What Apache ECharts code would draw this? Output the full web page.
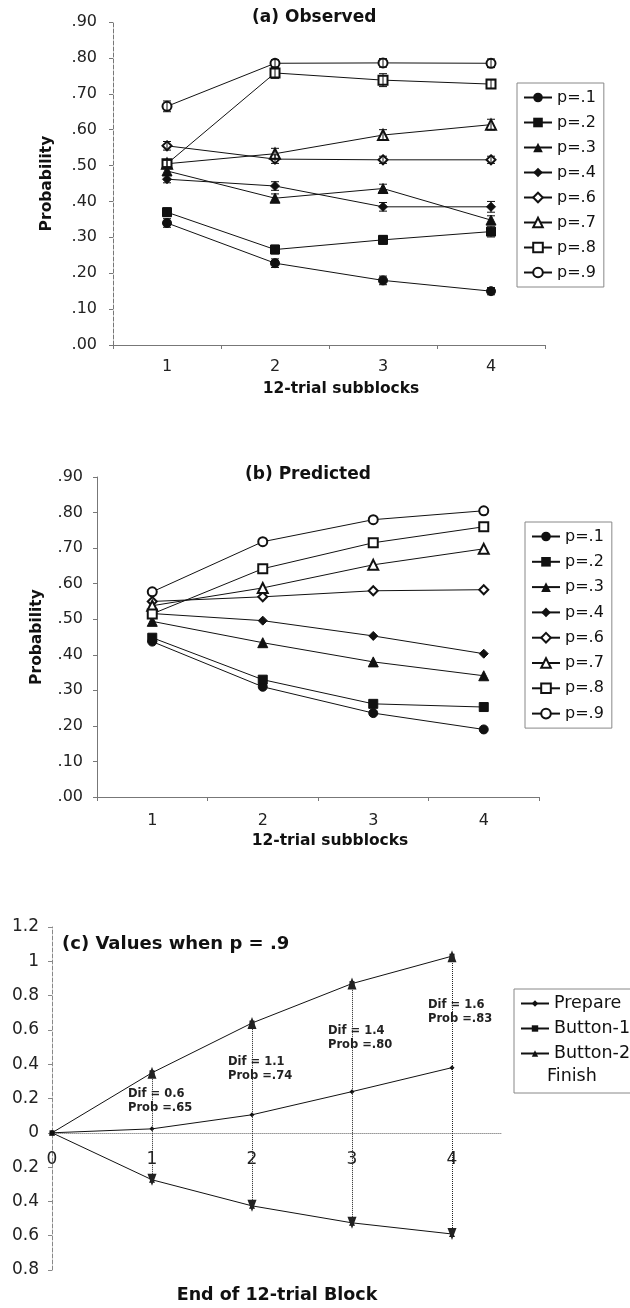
<!DOCTYPE html>
<html>
<head>
<meta charset="utf-8">
<script src="https://cdn.jsdelivr.net/npm/echarts@6/dist/echarts.min.js"></script>
<style>
  html, body { margin: 0; padding: 0; background: #fff; }
  #chart { width: 630px; height: 1308px; }
</style>
</head>
<body>
<div id="chart"></div>
<script>
// subblocks on the x axis of panels (a) and (b)
const categories = ['1', '2', '3', '4'];
const pNames = ['p=.1', 'p=.2', 'p=.3', 'p=.4', 'p=.6', 'p=.7', 'p=.8', 'p=.9'];
const pSymbols = ['circle', 'rect', 'triangle', 'diamond', 'emptyDiamond', 'emptyTriangle', 'emptyRect', 'emptyCircle'];

// (a) observed
const obsP1 = [0.340, 0.228, 0.180, 0.150];
const obsP2 = [0.370, 0.266, 0.293, 0.316];
const obsP3 = [0.485, 0.409, 0.436, 0.348];
const obsP4 = [0.462, 0.443, 0.385, 0.385];
const obsP6 = [0.555, 0.518, 0.516, 0.516];
const obsP7 = [0.505, 0.533, 0.585, 0.614];
const obsP8 = [0.505, 0.758, 0.738, 0.727];
const obsP9 = [0.665, 0.785, 0.786, 0.785];
// (a) standard errors
const errP1 = [0.012, 0.012, 0.012, 0.010];
const errP2 = [0.012, 0.012, 0.012, 0.015];
const errP3 = [0.012, 0.012, 0.012, 0.012];
const errP4 = [0.010, 0.012, 0.012, 0.015];
const errP6 = [0.012, 0.012, 0.010, 0.010];
const errP7 = [0.010, 0.015, 0.015, 0.015];
const errP8 = [0.010, 0.015, 0.018, 0.012];
const errP9 = [0.015, 0.010, 0.012, 0.012];

// (b) predicted
const preP1 = [0.437, 0.310, 0.236, 0.190];
const preP2 = [0.448, 0.330, 0.262, 0.253];
const preP3 = [0.494, 0.434, 0.380, 0.341];
const preP4 = [0.516, 0.496, 0.453, 0.403];
const preP6 = [0.550, 0.563, 0.580, 0.583];
const preP7 = [0.538, 0.588, 0.653, 0.698];
const preP8 = [0.515, 0.642, 0.715, 0.760];
const preP9 = [0.577, 0.718, 0.780, 0.805];

// (c) values when p = .9
const blocks = [0, 1, 2, 3, 4];
const prepare = [0, 0.023, 0.105, 0.24, 0.38];
const button1 = [0, 0.35, 0.64, 0.87, 1.03];
const button2 = [0, -0.274, -0.426, -0.525, -0.59];
const difs = ['0.6', '1.1', '1.4', '1.6'];
const probs = ['.65', '.74', '.80', '.83'];

const observed = [obsP1, obsP2, obsP3, obsP4, obsP6, obsP7, obsP8, obsP9];
const errors = [errP1, errP2, errP3, errP4, errP6, errP7, errP8, errP9];
const predicted = [preP1, preP2, preP3, preP4, preP6, preP7, preP8, preP9];

const FONT = 'DejaVu Sans';
const INK = '#111';
const AXIS = '#777';

// panel (c) value range and grid height, used to lift the x axis to y = 0
const cMin = -0.8;
const cMax = 1.2;
const cHeight = 343;

function probLabel(v) {
    return v.toFixed(2).replace(/^0/, '');
}

function renderErr(params, api) {
    const x = api.value(0);
    const lo = api.coord([x, api.value(1)]);
    const hi = api.coord([x, api.value(2)]);
    const w = 4;
    const st = { stroke: INK, lineWidth: 1 };
    return {
        type: 'group',
        children: [
            { type: 'line', shape: { x1: lo[0], y1: lo[1], x2: hi[0], y2: hi[1] }, style: st },
            { type: 'line', shape: { x1: lo[0] - w, y1: lo[1], x2: lo[0] + w, y2: lo[1] }, style: st },
            { type: 'line', shape: { x1: hi[0] - w, y1: hi[1], x2: hi[0] + w, y2: hi[1] }, style: st }
        ]
    };
}

function catXAxis(gridIndex, labelMargin) {
    return {
        type: 'category',
        gridIndex: gridIndex,
        data: categories,
        name: '12-trial subblocks',
        nameLocation: 'middle',
        nameGap: 36,
        nameTextStyle: { fontFamily: FONT, fontWeight: 'bold', fontSize: 15.5, color: INK, padding: [0, 0, 0, 24] },
        axisLine: { lineStyle: { color: AXIS, width: 1 } },
        axisTick: { show: true, length: 4, lineStyle: { color: AXIS } },
        axisLabel: { fontFamily: FONT, fontSize: 16, color: '#222', margin: labelMargin }
    };
}

function probYAxis(gridIndex, nameGap, labelMargin, dashed) {
    return {
        type: 'value',
        gridIndex: gridIndex,
        min: 0,
        max: 0.9,
        interval: 0.1,
        name: 'Probability',
        nameLocation: 'middle',
        nameRotate: 90,
        nameGap: nameGap,
        nameTextStyle: { fontFamily: FONT, fontWeight: 'bold', fontSize: 15.5, color: INK },
        axisLine: { show: true, lineStyle: { color: AXIS, width: 1, type: dashed ? 'dashed' : 'solid' } },
        axisTick: { show: true, length: 4, lineStyle: { color: AXIS } },
        splitLine: { show: false },
        axisLabel: { fontFamily: FONT, fontSize: 16, color: '#222', margin: labelMargin, formatter: probLabel }
    };
}

const series = [];

// panel (a) lines
observed.forEach(function (vals, k) {
    series.push({
        name: pNames[k],
        type: 'line',
        xAxisIndex: 0,
        yAxisIndex: 0,
        data: vals,
        symbol: pSymbols[k],
        symbolSize: pSymbols[k].indexOf('riangle') >= 0 ? 10 : 9,
        lineStyle: { color: INK, width: 1 },
        itemStyle: { color: INK, borderColor: INK },
        z: 3
    });
});

// panel (a) error bars
const errData = [];
observed.forEach(function (vals, k) {
    vals.forEach(function (v, i) {
        errData.push([i, v - errors[k][i], v + errors[k][i]]);
    });
});
series.push({
    type: 'custom',
    xAxisIndex: 0,
    yAxisIndex: 0,
    renderItem: renderErr,
    encode: { x: 0, y: [1, 2] },
    data: errData,
    z: 4
});

// panel (b) lines
predicted.forEach(function (vals, k) {
    series.push({
        name: pNames[k],
        type: 'line',
        xAxisIndex: 1,
        yAxisIndex: 1,
        data: vals,
        symbol: pSymbols[k],
        symbolSize: pSymbols[k].indexOf('riangle') >= 0 ? 10 : 9,
        lineStyle: { color: INK, width: 1 },
        itemStyle: { color: INK, borderColor: INK },
        z: 3
    });
});

// panel (c)
function pairs(vals) {
    return blocks.map(function (b, i) { return [b, vals[i]]; });
}

const arrowLines = [];
const notes = [];
for (let i = 1; i < blocks.length; i++) {
    arrowLines.push([{ coord: [blocks[i], button2[i]] }, { coord: [blocks[i], button1[i]] }]);
    notes.push({
        coord: [blocks[i], prepare[i] + 0.5 * (button1[i] - prepare[i])],
        value: 'Dif = ' + difs[i - 1] + '\nProb =' + probs[i - 1]
    });
}

series.push({
    name: 'Prepare',
    type: 'line',
    xAxisIndex: 2,
    yAxisIndex: 2,
    data: pairs(prepare),
    symbol: 'diamond',
    symbolSize: 5,
    lineStyle: { color: INK, width: 1 },
    itemStyle: { color: INK },
    markPoint: {
        symbol: 'rect',
        symbolSize: 1,
        itemStyle: { color: 'rgba(0,0,0,0)' },
        label: {
            show: true,
            position: 'inside',
            align: 'left',
            offset: [-24, 0],
            fontFamily: FONT,
            fontWeight: 'bold',
            fontSize: 11.5,
            lineHeight: 14,
            color: '#222',
            formatter: function (p) { return p.value; }
        },
        data: notes
    }
});
series.push({
    name: 'Button-1',
    type: 'line',
    xAxisIndex: 2,
    yAxisIndex: 2,
    data: pairs(button1),
    symbol: 'rect',
    symbolSize: 5,
    lineStyle: { color: INK, width: 1 },
    itemStyle: { color: INK },
    markLine: {
        silent: true,
        symbol: ['triangle', 'triangle'],
        symbolSize: [9, 12],
        label: { show: false },
        lineStyle: { color: '#222', width: 1, type: 'dotted' },
        data: arrowLines
    }
});
series.push({
    name: 'Button-2',
    type: 'line',
    xAxisIndex: 2,
    yAxisIndex: 2,
    data: pairs(button2),
    symbol: 'triangle',
    symbolSize: 6,
    lineStyle: { color: INK, width: 1 },
    itemStyle: { color: INK }
});

const legendBase = {
    orient: 'vertical',
    borderColor: '#888',
    borderWidth: 1,
    borderRadius: 0,
    itemWidth: 28,
    itemHeight: 12,
    textStyle: { fontFamily: FONT, fontSize: 16, color: INK, lineHeight: 17 }
};

const option = {
    animation: false,
    backgroundColor: '#fff',
    title: [
        { text: '(a) Observed', left: 247, top: 4, textStyle: { fontFamily: FONT, fontWeight: 'bold', fontSize: 17, color: INK } },
        { text: '(b) Predicted', left: 240, top: 461, textStyle: { fontFamily: FONT, fontWeight: 'bold', fontSize: 17, color: INK } },
        { text: '(c) Values when p = .9', left: 57, top: 930, textStyle: { fontFamily: FONT, fontWeight: 'bold', fontSize: 18, color: INK } }
    ],
    grid: [
        { left: 113, top: 22, width: 432, height: 323, outerBoundsMode: 'none' },
        { left: 97, top: 477, width: 442, height: 320, outerBoundsMode: 'none' },
        { left: 52, top: 927, width: 450, height: cHeight, outerBoundsMode: 'none' }
    ],
    legend: [
        Object.assign({}, legendBase, { left: 517, top: 83, padding: [6, 8, 6, 6], itemGap: 8, data: pNames }),
        Object.assign({}, legendBase, { left: 525, top: 522, padding: [6, 8, 6, 6], itemGap: 8.3, data: pNames }),
        Object.assign({}, legendBase, {
            left: 514, top: 989, padding: [2, 20, 27, 6], itemGap: 0, itemWidth: 28, itemHeight: 8,
            textStyle: { fontFamily: FONT, fontSize: 17.5, color: INK, lineHeight: 25 },
            data: ['Prepare', 'Button-1', 'Button-2']
        })
    ],
    graphic: [
        { type: 'text', left: 547, top: 1067, style: { text: 'Finish', fontFamily: FONT, fontSize: 17.5, fill: INK } }
    ],
    xAxis: [
        catXAxis(0, 14),
        catXAxis(1, 16),
        {
            type: 'value',
            gridIndex: 2,
            min: 0,
            max: 4.5,
            interval: 1,
            position: 'bottom',
            offset: -cHeight * (0 - cMin) / (cMax - cMin),
            name: 'End of 12-trial Block',
            nameLocation: 'middle',
            nameGap: 154,
            nameTextStyle: { fontFamily: FONT, fontWeight: 'bold', fontSize: 17.5, color: INK },
            axisLine: { onZero: false, lineStyle: { color: '#999', width: 1, type: 'dotted' } },
            axisTick: { show: false },
            splitLine: { show: false },
            axisLabel: {
                fontFamily: FONT, fontSize: 17, color: '#222', margin: 18,
                formatter: function (v) { return Number.isInteger(v) ? String(v) : ''; }
            }
        }
    ],
    yAxis: [
        probYAxis(0, 58, 16, true),
        probYAxis(1, 52, 14, false),
        {
            type: 'value',
            gridIndex: 2,
            min: cMin,
            max: cMax,
            interval: 0.2,
            axisLine: { show: true, lineStyle: { color: '#888', width: 1, type: 'dashed' } },
            axisTick: { show: true, length: 4, lineStyle: { color: '#888' } },
            splitLine: { show: false },
            axisLabel: {
                fontFamily: FONT, fontSize: 17, color: '#222', margin: 13,
                formatter: function (v) { return String(Math.round(Math.abs(v) * 10) / 10); }
            }
        }
    ],
    series: series
};

const chart = echarts.init(document.getElementById('chart'));
chart.setOption(option);
</script>
</body>
</html>
